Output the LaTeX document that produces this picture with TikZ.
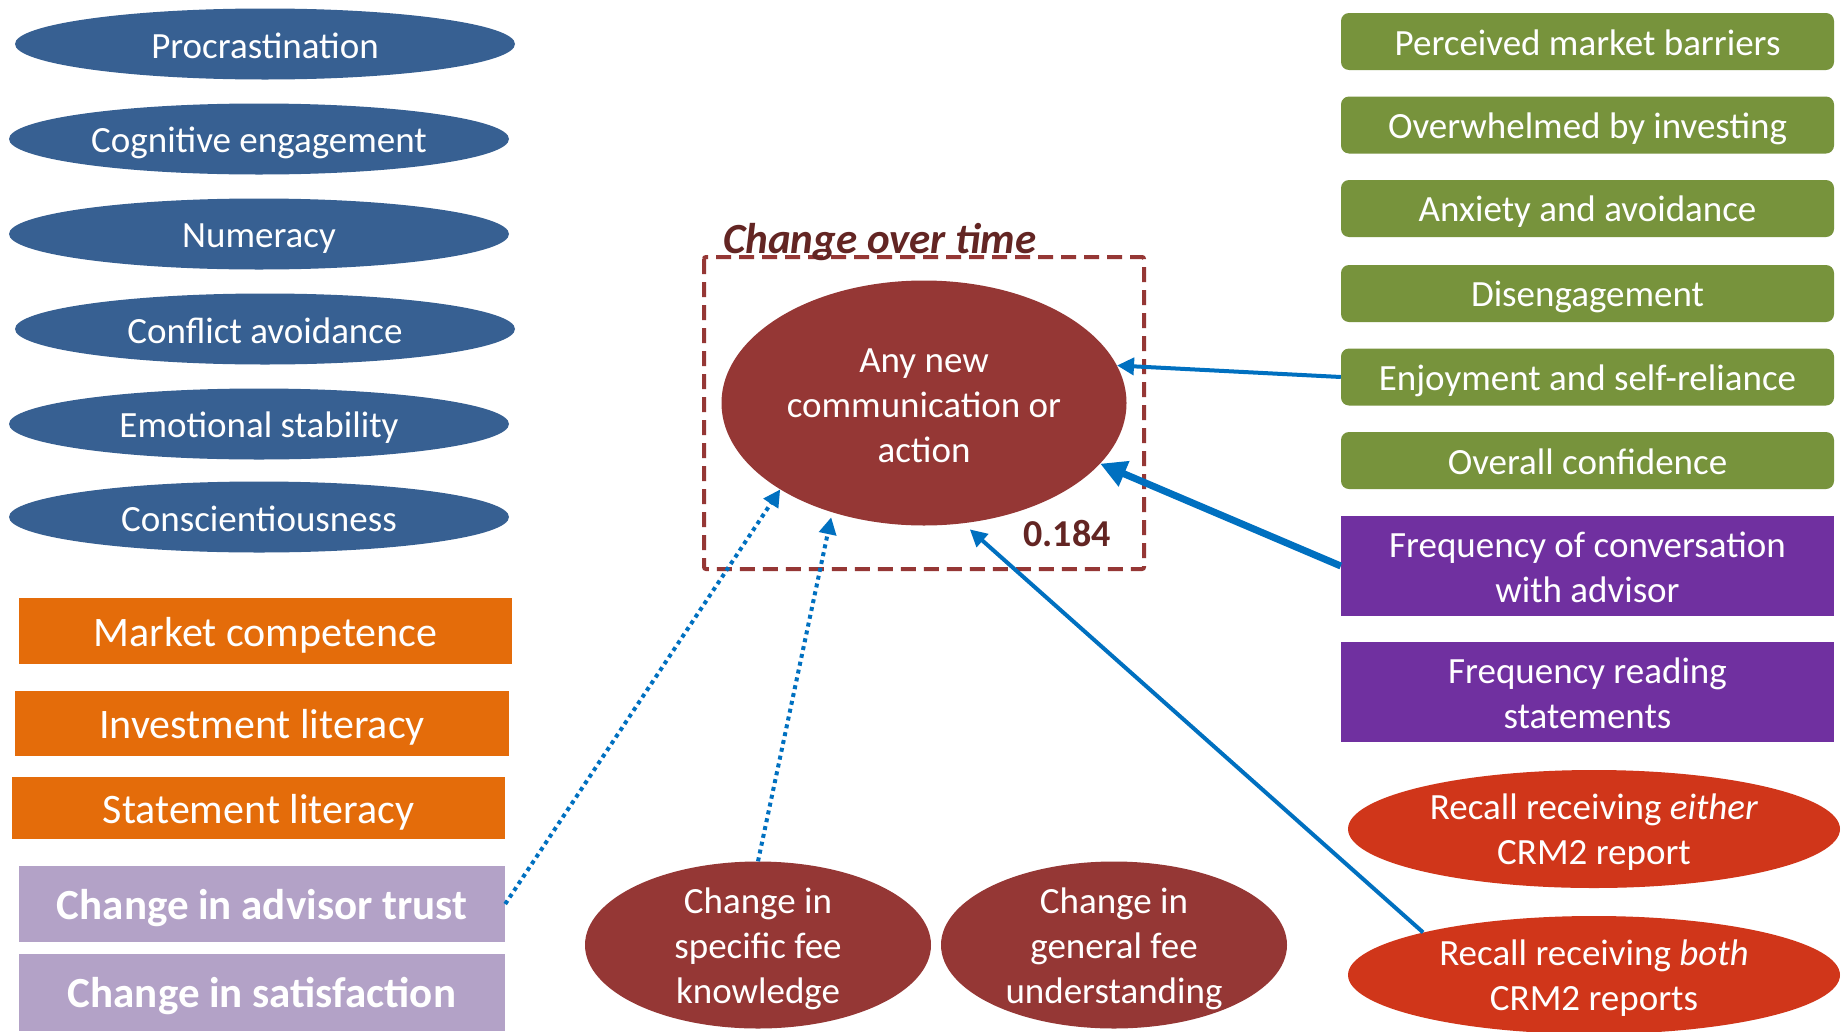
\documentclass[tikz,border=0pt]{standalone}
\usepackage{fontspec}
\setmainfont{Carlito}
\usetikzlibrary{shapes.geometric,arrows.meta}
\definecolor{cblue}{HTML}{376092}
\definecolor{corange}{HTML}{E46C0A}
\definecolor{clav}{HTML}{B3A2C7}
\definecolor{cgreen}{HTML}{77933C}
\definecolor{cpurple}{HTML}{7030A0}
\definecolor{cred}{HTML}{D0361A}
\definecolor{cdark}{HTML}{953735}
\definecolor{ctitle}{HTML}{632523}
\definecolor{carrow}{HTML}{0070C0}
\newcommand{\Ts}{\rule[-0.12em]{0pt}{1em}}
\begin{document}
\begin{tikzpicture}[x=1pt,y=-1pt,
  txt/.style={text=white, inner sep=0pt, align=center, font=\fontsize{37}{45}\selectfont},
  bigtxt/.style={text=white, inner sep=0pt, align=center, font=\fontsize{42}{50}\selectfont},
  boldtxt/.style={text=white, inner sep=0pt, align=center, font=\fontsize{43}{50}\selectfont\bfseries},
  ell/.style={ellipse, inner sep=0pt, draw=none},
  blueell/.style={ell, fill=cblue, minimum width=500pt, minimum height=71pt},
  rbox/.style={rectangle, inner sep=0pt, draw=none},
  orbox/.style={rbox, fill=corange, bigtxt},
  lavbox/.style={rbox, fill=clav, boldtxt},
  grbox/.style={rbox, fill=cgreen, rounded corners=8pt, minimum width=493pt, minimum height=57pt, txt},
  pubox/.style={rbox, fill=cpurple, minimum width=493pt, minimum height=100pt, txt},
  arr/.style={draw=carrow, line width=4pt, -{Triangle[length=17pt,width=17pt]}},
  dotarr/.style={arr, dash pattern=on 4pt off 4pt}
]
\useasboundingbox[fill=white] (0,0) rectangle (1847,1031);

% left column: blue ellipses
\node[blueell] (proc) at (265,44) {};
\node[txt] at (proc) {\Ts Procrastination};
\node[blueell] (cog) at (259,139) {};
\node[txt] at (cog) {\Ts Cognitive engagement};
\node[blueell] (num) at (259,234) {};
\node[txt] at (num) {\Ts Numeracy};
\node[blueell] (conf) at (265,329) {};
\node[txt] at (conf) {\Ts Conflict avoidance};
\node[blueell] (emo) at (259,424) {};
\node[txt] at (emo) {\Ts Emotional stability};
\node[blueell] (consc) at (259,517) {};
\node[txt] at (consc) {\Ts Conscientiousness};

% orange boxes
\node[orbox, minimum width=493pt, minimum height=66pt] (mc) at (265.5,631) {\Ts Market competence};
\node[orbox, minimum width=494pt, minimum height=65pt] (il) at (262,723.5) {\Ts Investment literacy};
\node[orbox, minimum width=493pt, minimum height=62pt] (sl) at (258.5,808) {\Ts Statement literacy};

% lavender boxes
\node[lavbox, minimum width=486pt, minimum height=76pt] (trust) at (262,904) {\Ts Change in advisor trust};
\node[lavbox, minimum width=486pt, minimum height=77pt] (sat) at (262,992.5) {\Ts Change in satisfaction};

% right column: green boxes
\node[grbox] (pmb) at (1587.5,41.5) {\Ts Perceived market barriers};
\node[grbox] (obi) at (1587.5,125) {\Ts Overwhelmed by investing};
\node[grbox] (aav) at (1587.5,208.5) {\Ts Anxiety and avoidance};
\node[grbox] (dis) at (1587.5,293.5) {\Ts Disengagement};
\node[grbox] (enj) at (1587.5,377) {\Ts Enjoyment and self-reliance};
\node[grbox] (oc) at (1587.5,460.5) {\Ts Overall confidence};

% purple boxes
\node[pubox] (fconv) at (1587.5,566) {\Ts Frequency of conversation\\\Ts with advisor};
\node[pubox] (fread) at (1587.5,692) {\Ts Frequency reading\\\Ts statements};

% red ellipses
\node[ell, fill=cred, minimum width=492pt, minimum height=118pt] (either) at (1594,829) {};
\node[txt] at (either) {\Ts Recall receiving \textit{either}\\\Ts CRM2 report};
\node[ell, fill=cred, minimum width=492pt, minimum height=118pt] (both) at (1594,975) {};
\node[txt] at (both) {\Ts Recall receiving \textit{both}\\\Ts CRM2 reports};

% central
\draw[cdark, line width=4pt, dash pattern=on 15pt off 8pt, rounded corners=2pt] (704,257) rectangle (1144,569);
\node[anchor=west, inner sep=0pt, text=ctitle, font=\fontsize{43}{50}\selectfont\bfseries\itshape] (cot) at (723,238) {\Ts Change over time};
\node[ell, fill=cdark, minimum width=405pt, minimum height=245pt] (cent) at (924,403) {};
\node[txt] at (cent) {\Ts Any new\\\Ts communication or\\\Ts action};
\node[inner sep=0pt, text=ctitle, font=\fontsize{38}{45}\selectfont\bfseries] (coef) at (1067,532) {\Ts 0.184};

% bottom ellipses
\node[ell, fill=cdark, minimum width=346pt, minimum height=167pt] (spec) at (758,945) {};
\node[txt] at (spec) {\Ts Change in\\\Ts specific fee\\\Ts knowledge};
\node[ell, fill=cdark, minimum width=346pt, minimum height=167pt] (gen) at (1114,945) {};
\node[txt] at (gen) {\Ts Change in\\\Ts general fee\\\Ts understanding};

% connectors
\draw[arr] (enj.west) -- (cent.11);
\draw[arr, line width=7pt, -{Triangle[length=26pt,width=26pt]}] (fconv.west) -- (cent.-19);
\draw[arr, shorten >=9pt] (both.166) -- (cent.-72);
\draw[dotarr] (trust.east) -- (cent.211);
\draw[dotarr, shorten >=5pt] (spec.north) -- (cent.230.7);
\end{tikzpicture}
\end{document}
